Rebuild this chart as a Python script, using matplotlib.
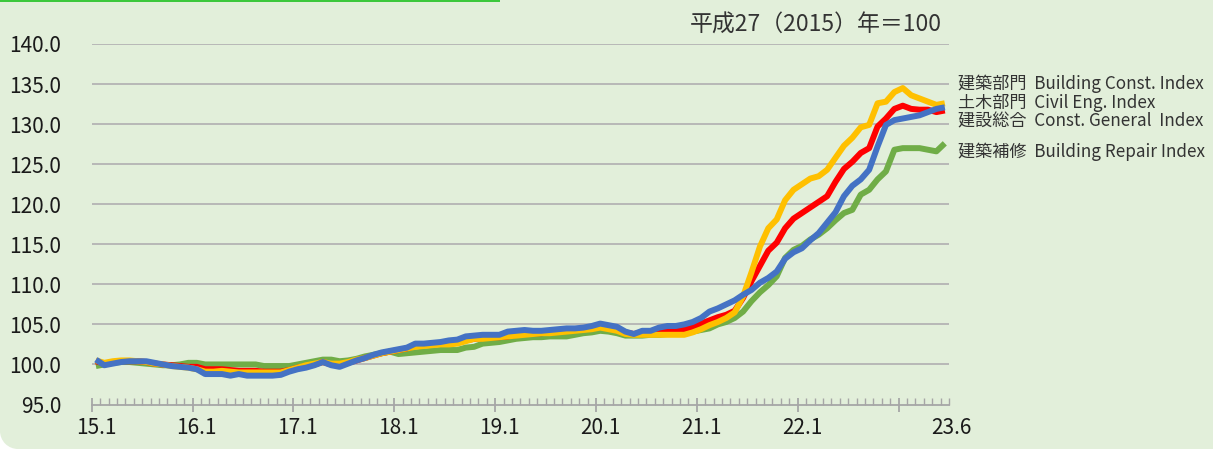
import matplotlib
matplotlib.use("Agg")
import matplotlib.pyplot as plt
from matplotlib.patches import Rectangle, Ellipse
from matplotlib.transforms import blended_transform_factory

plt.rcParams['font.family'] = ['Noto Sans CJK JP', 'DejaVu Sans']

# Monthly index, 2015.1 - 2023.6 (102 months)
building = [100.5, 100.2, 100.4, 100.5, 100.5, 100.4, 100.3, 100.1, 100.0, 99.8, 99.7, 99.6,
            99.4, 99.1, 99.1, 99.2, 99.1, 99.0, 99.0, 99.0, 99.0, 99.0, 99.0, 99.3,
            99.6, 99.9, 100.1, 100.3, 100.1, 100.1, 100.3, 100.6, 100.8, 101.1, 101.4, 101.6,
            101.8, 102.0, 102.2, 102.3, 102.4, 102.5, 102.5, 102.6, 102.9, 103.2, 103.2, 103.3,
            103.4, 103.5, 103.6, 103.7, 103.8, 103.9, 103.9, 104.0, 104.1, 104.2, 104.3, 104.4,
            104.6, 104.4, 104.2, 103.8, 103.7, 103.7, 103.7, 103.7, 103.7, 103.7, 103.7, 104.0,
            104.4, 104.9, 105.3, 105.8, 106.5, 108.5, 111.5, 114.7, 117.0, 118.1, 120.5, 121.8,
            122.5, 123.2, 123.5, 124.3, 125.8, 127.3, 128.3, 129.6, 129.9, 132.6, 132.8, 134.0,
            134.5, 133.6, 133.2, 132.8, 132.4, 132.6]

civil = [100.4, 100.1, 100.3, 100.4, 100.4, 100.4, 100.3, 100.1, 100.0, 99.9, 99.8, 99.7,
         99.7, 99.4, 99.4, 99.4, 99.3, 99.2, 99.2, 99.2, 99.1, 99.1, 99.1, 99.3,
         99.6, 99.8, 100.0, 100.3, 100.0, 99.9, 100.2, 100.5, 100.8, 101.1, 101.4, 101.6,
         101.8, 102.0, 102.3, 102.4, 102.5, 102.6, 102.7, 102.8, 103.0, 103.2, 103.3, 103.4,
         103.4, 103.5, 103.7, 103.8, 103.9, 103.9, 104.0, 104.1, 104.2, 104.3, 104.4, 104.6,
         104.8, 104.6, 104.4, 104.0, 103.8, 104.0, 104.0, 104.2, 104.3, 104.3, 104.4, 104.7,
         105.1, 105.5, 105.9, 106.2, 106.7, 108.3, 110.4, 112.3, 114.2, 115.2, 117.0, 118.2,
         118.9, 119.6, 120.3, 121.0, 122.8, 124.4, 125.3, 126.4, 127.0, 129.7, 130.7, 131.9,
         132.3, 131.9, 131.8, 131.8, 131.5, 131.7]

general = [100.6, 99.9, 100.1, 100.3, 100.4, 100.4, 100.4, 100.2, 100.0, 99.8, 99.7, 99.6,
           99.4, 98.8, 98.8, 98.8, 98.6, 98.8, 98.6, 98.6, 98.6, 98.6, 98.7, 99.1,
           99.4, 99.6, 99.9, 100.3, 99.9, 99.7, 100.1, 100.5, 100.8, 101.2, 101.5, 101.7,
           101.9, 102.1, 102.6, 102.6, 102.7, 102.8, 103.0, 103.1, 103.5, 103.6, 103.7, 103.7,
           103.7, 104.1, 104.2, 104.3, 104.2, 104.2, 104.3, 104.4, 104.5, 104.5, 104.6, 104.8,
           105.1, 104.9, 104.7, 104.1, 103.8, 104.2, 104.2, 104.6, 104.8, 104.8, 105.0, 105.3,
           105.8, 106.6, 107.0, 107.5, 108.0, 108.7, 109.3, 110.2, 110.8, 111.6, 113.2, 114.0,
           114.5, 115.5, 116.4, 117.7, 119.0, 121.0, 122.3, 123.1, 124.3, 127.2, 129.9, 130.5,
           130.7, 130.9, 131.1, 131.5, 131.9, 132.1]

repair = [99.8, 100.0, 100.2, 100.3, 100.3, 100.2, 100.1, 100.0, 99.9, 99.9, 100.0, 100.2,
          100.2, 100.0, 100.0, 100.0, 100.0, 100.0, 100.0, 100.0, 99.8, 99.8, 99.8, 99.8,
          100.0, 100.2, 100.4, 100.6, 100.6, 100.4, 100.5, 100.7, 101.0, 101.2, 101.4, 101.6,
          101.3, 101.4, 101.5, 101.6, 101.7, 101.8, 101.8, 101.8, 102.1, 102.2, 102.6, 102.7,
          102.8, 103.0, 103.2, 103.3, 103.4, 103.4, 103.5, 103.5, 103.5, 103.7, 103.9, 104.0,
          104.2, 104.1, 103.9, 103.6, 103.6, 103.6, 103.7, 103.7, 103.8, 103.8, 103.9, 104.1,
          104.3, 104.5, 105.0, 105.3, 105.8, 106.6, 107.9, 109.0, 109.9, 111.0, 113.3, 114.3,
          114.8, 115.6, 116.2, 117.0, 118.0, 118.9, 119.3, 121.2, 121.8, 123.1, 124.1, 126.8,
          127.0, 127.0, 127.0, 126.8, 126.6, 127.6]

series_labels = ["建築部門  Building Const. Index",
                 "土木部門  Civil Eng. Index",
                 "建設総合  Const. General  Index",
                 "建築補修  Building Repair Index"]
series_colors = ["#FFC000", "#FF0000", "#4472C4", "#70AD47"]
x_tick_labels = ["15.1", "16.1", "17.1", "18.1", "19.1", "20.1", "21.1", "22.1"]
y_ticks = [95, 100, 105, 110, 115, 120, 125, 130, 135, 140]
base_note = "平成27（2015）年＝100"

W, H = 1213, 449
BG = "#E2EFDA"
fig = plt.figure(figsize=(W / 100, H / 100), dpi=100, facecolor=BG)

# rounded bottom-left corner
r = 18
fig.patches.append(Rectangle((0, 0), r / W, r / H, transform=fig.transFigure,
                             facecolor="white", edgecolor="none", zorder=-10))
fig.patches.append(Ellipse((r / W, r / H), 2 * r / W, 2 * r / H, transform=fig.transFigure,
                           facecolor=BG, edgecolor="none", zorder=-8))
# green top line
fig.patches.append(Rectangle((0, 1 - 2 / H), 500 / W, 2 / H, transform=fig.transFigure,
                             facecolor="#3CC83C", edgecolor="none", zorder=5))

left, right, bottom, top = 91.7, 949, 404.5, 44
ax = fig.add_axes([left / W, 1 - bottom / H, (right - left) / W, (bottom - top) / H])
ax.set_facecolor("none")

n = len(general)
xs = list(range(n))
order = [3, 1, 0, 2]  # draw: repair, civil, building, general(top)
data = [building, civil, general, repair]
for k in order:
    ax.plot(xs, data[k], color=series_colors[k], lw=4.3, solid_joinstyle="round",
            solid_capstyle="butt", zorder=3 + order.index(k))

ax.set_xlim(-0.5, n - 0.5)
ax.set_ylim(95, 140)
ax.set_yticks(y_ticks)
ax.set_yticklabels([f"{v:.1f}" for v in y_ticks], fontsize=15, color="#1a1a1a")
ax.tick_params(axis="y", length=0, pad=22)
for v in y_ticks[1:]:
    ax.axhline(v, color="#B4B4B4", lw=1.3, zorder=1)

for s in ["top", "right", "left"]:
    ax.spines[s].set_visible(False)
ax.spines["bottom"].set_color("#A6A6A6")
ax.spines["bottom"].set_linewidth(1.3)

ax.set_xticks([-0.5 + 12 * k for k in range(9)])
ax.set_xticklabels([])
ax.set_xticks([-0.5 + k for k in range(n + 1)], minor=True)
ax.tick_params(axis="x", which="major", direction="inout", length=10, color="#A6A6A6", width=1.3)
ax.tick_params(axis="x", which="minor", direction="in", length=5, color="#A6A6A6", width=1)

trans = blended_transform_factory(ax.transData, ax.transAxes)
yl = -(428 - bottom) / (bottom - top)
for k, lab in enumerate(x_tick_labels):
    ax.text(12 * k, yl, lab, transform=trans, ha="center", va="center",
            fontsize=15, color="#1a1a1a")
ax.text(101.8, yl, "23.6", transform=trans, ha="center", va="center",
        fontsize=15, color="#1a1a1a")

fig.text(942 / W, 1 - 25 / H, base_note, ha="right", va="center", fontsize=16.5, color="#333333")

label_y = [84, 103, 122, 152]
for lab, yy in zip(series_labels, label_y):
    fig.text(958 / W, 1 - yy / H, lab, ha="left", va="center", fontsize=12.3, color="#333333")

fig.savefig("out.png", dpi=100, facecolor=BG)
